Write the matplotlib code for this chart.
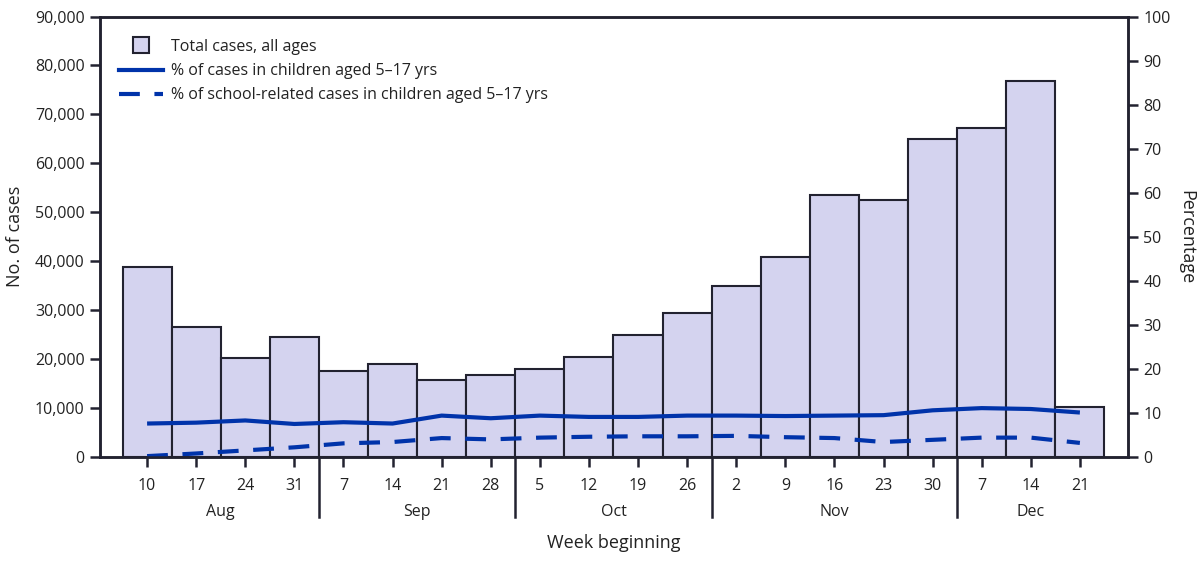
import matplotlib
matplotlib.use("Agg")
import matplotlib.pyplot as plt
from matplotlib.lines import Line2D
from matplotlib.ticker import FuncFormatter
import matplotlib.transforms as mtransforms

plt.rcParams['font.family'] = ['Open Sans', 'DejaVu Sans']

week_labels = ["10", "17", "24", "31", "7", "14", "21", "28", "5", "12", "19", "26",
               "2", "9", "16", "23", "30", "7", "14", "21"]
months = ["Aug", "Sep", "Oct", "Nov", "Dec"]
weeks_per_month = [4, 4, 4, 5, 3]

total_cases = [38900, 26500, 20200, 24600, 17600, 19000, 15800, 16800, 17900, 20400,
               25000, 29500, 35000, 40900, 53600, 52600, 65000, 67300, 76800, 10200]
pct_children = [7.6, 7.8, 8.3, 7.5, 7.9, 7.6, 9.4, 8.8, 9.4, 9.1, 9.1, 9.4,
                9.4, 9.3, 9.4, 9.5, 10.6, 11.1, 10.9, 10.1]
pct_school = [0.2, 0.8, 1.5, 2.2, 3.1, 3.4, 4.3, 4.0, 4.4, 4.6, 4.7, 4.7,
              4.8, 4.5, 4.3, 3.4, 3.9, 4.4, 4.4, 3.2]

bar_color = "#d4d3ef"
edge_color = "#222230"
line_color = "#0033aa"
text_color = "#222222"

x = list(range(len(week_labels)))

fig = plt.figure(figsize=(12, 5.64), dpi=100)
ax = fig.add_axes([0.0833, 0.1897, 0.8567, 0.781])
ax2 = ax.twinx()

ax.bar(x, total_cases, width=1.0, color=bar_color, edgecolor=edge_color, linewidth=1.5)
ax2.plot(x, pct_children, color=line_color, linewidth=3.0, solid_capstyle='butt')
ax2.plot(x, pct_school, color=line_color, linewidth=3.0, dashes=(5, 3.5))

ax.set_xlim(-0.96, 19.98)
ax.set_ylim(0, 90000)
ax2.set_ylim(0, 100)
ax.set_yticks(range(0, 90001, 10000))
ax.yaxis.set_major_formatter(FuncFormatter(lambda v, p: f"{int(v):,}"))
ax2.set_yticks(range(0, 101, 10))

ax.set_xticks(x)
ax.set_xticklabels(week_labels)

for a in (ax, ax2):
    for s in a.spines.values():
        s.set_color(edge_color)
        s.set_linewidth(1.8)
    a.tick_params(axis='both', direction='out', length=7, width=1.8, color=edge_color,
                  labelsize=11.5, labelcolor=text_color, pad=4)
ax.tick_params(axis='x', pad=8)

ax.set_ylabel("No. of cases", fontsize=13, color=text_color, labelpad=8)
ax2.set_ylabel("Percentage", fontsize=13, color=text_color, rotation=270, labelpad=18)
ax.set_xlabel("Week beginning", fontsize=13, color=text_color, labelpad=29)

# month labels and separators below the axis
trans = mtransforms.blended_transform_factory(ax.transData, ax.transAxes)
start = 0
for m, n in zip(months, weeks_per_month):
    ax.text(start + (n - 1) / 2, -0.125, m, transform=trans, ha='center', va='center',
            fontsize=11.5, color=text_color)
    if start > 0:
        ax.plot([start - 0.5, start - 0.5], [0, -0.136], transform=trans, color=edge_color,
                linewidth=1.8, clip_on=False)
    start += n

handles = [
    Line2D([], [], marker='s', linestyle='none', markersize=11, markerfacecolor=bar_color,
           markeredgecolor=edge_color, markeredgewidth=1.5),
    Line2D([], [], color=line_color, linewidth=3.0),
    Line2D([], [], color=line_color, linewidth=3.0, dashes=(5, 3.5)),
]
labels = ["Total cases, all ages",
          "% of cases in children aged 5\u201317 yrs",
          "% of school-related cases in children aged 5\u201317 yrs"]
ax2.legend(handles, labels, loc='upper left', bbox_to_anchor=(0.005, 0.982), frameon=False,
           fontsize=11.5, handlelength=2.7, handletextpad=0.5, labelspacing=0.52,
           labelcolor=text_color)

fig.savefig("out.png", dpi=100)
